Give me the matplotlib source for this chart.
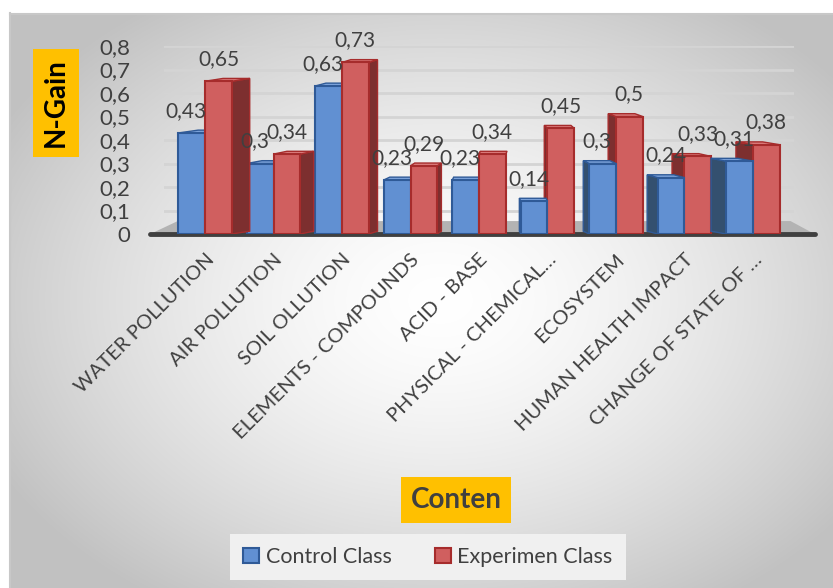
import numpy as np
import matplotlib.pyplot as plt
import matplotlib.transforms as mtrans
from matplotlib.patches import Polygon, Patch

plt.rcParams['font.family'] = ['Lato', 'DejaVu Sans']

topics = ['WATER POLLUTION', 'AIR POLLUTION', 'SOIL OLLUTION', 'ELEMENTS - COMPOUNDS',
          'ACID - BASE', 'PHYSICAL - CHEMICAL…', 'ECOSYSTEM', 'HUMAN HEALTH IMPACT',
          'CHANGE OF STATE OF …']
control = [0.43, 0.30, 0.63, 0.23, 0.23, 0.14, 0.30, 0.24, 0.31]
experimen = [0.65, 0.34, 0.73, 0.29, 0.34, 0.45, 0.50, 0.33, 0.38]
yticks = [0, 0.1, 0.2, 0.3, 0.4, 0.5, 0.6, 0.7, 0.8]

def comma(v):
    return ('%g' % v).replace('.', ',')

fig = plt.figure(figsize=(8.33, 5.88), dpi=100)

# background gradient of the chart area
bg = fig.add_axes([0, 0, 1, 1], zorder=-10)
yy, xx = np.mgrid[0:588, 0:833]
d = np.sqrt(((xx - 440) / 500.0) ** 2 + ((yy - 300) / 360.0) ** 2)
g = 1.0 - 0.24 * np.clip(d, 0, 1) ** 1.5
img = np.dstack([g, g, g])
img[:13, :] = 1.0
img[:, :10] = 1.0
bg.imshow(img, extent=[0, 833, 588, 0], aspect='auto')
bg.plot([10, 833], [13.5, 13.5], color='#c8c8c8', lw=1.5)
bg.plot([10.5, 10.5], [13, 588], color='#c8c8c8', lw=1.5)
bg.set_xlim(0, 833)
bg.set_ylim(588, 0)
bg.axis('off')

ax = fig.add_axes([164 / 833, 1 - 234 / 588, 630 / 833, 188 / 588])
ax.set_facecolor('none')
x = np.arange(len(topics))
w = 0.39
vx = 4.3      # vanishing point for side faces
k = 0.067
dy = 0.012

# floor
ax.add_patch(Polygon([(-0.8, 0), (8.9, 0), (8.55, 0.055), (-0.4, 0.055)], closed=True,
                     facecolor='#b3b3b3', edgecolor='none', zorder=1, clip_on=False))
ax.plot([-0.8, 8.9], [0, 0], color='#404040', lw=3.5, zorder=1.5, clip_on=False,
        solid_capstyle='round')

styles = [('#6190d2', '#2f5a97', '#34506f', '#7ea5dc'),
          ('#d05f5f', '#a62c2c', '#7d2f2f', '#dc7c7c')]

for i in range(len(topics)):
    for j, (vals, off) in enumerate([(control, -w), (experimen, 0)]):
        h = vals[i]
        face, edge, side, top = styles[j]
        x0 = x[i] + off
        x1 = x0 + w
        if x1 <= vx:
            z = 3 + j
            xe = x1
        else:
            z = 4 - j
            xe = x0
        dd = k * (vx - xe)
        ax.bar(x0, h, width=w, align='edge', color=face, edgecolor=edge, lw=1.5, zorder=z + 0.2)
        ax.add_patch(Polygon([(xe, 0), (xe, h), (xe + dd, h + dy), (xe + dd, dy)],
                             closed=True, facecolor=side, edgecolor=edge, lw=1, zorder=z))
        ax.add_patch(Polygon([(x0, h), (x1, h), (x1 + dd, h + dy), (x0 + dd, h + dy)],
                             closed=True, facecolor=top, edgecolor=edge, lw=1, zorder=z + 0.1))
        ax.annotate(comma(h), (x0 + w / 2, h), xytext=(-4 if j == 0 else 0, 16),
                    textcoords='offset points', ha='center', va='center',
                    fontsize=15, color='#404040', zorder=10)

ax.set_xlim(-0.6, 8.6)
ax.set_ylim(0, 0.8)
ax.set_yticks(yticks)
ax.set_yticklabels([comma(v) for v in yticks], fontsize=16, color='#404040')
ax.set_xticks(x)
ax.set_xticklabels(topics, rotation=45, ha='right', rotation_mode='anchor',
                   fontsize=14.5, color='#404040')
shift = mtrans.ScaledTranslation(-8 / 100, 0, fig.dpi_scale_trans)
for lab in ax.get_xticklabels():
    lab.set_transform(lab.get_transform() + shift)
ax.tick_params(axis='y', length=0, pad=24)
ax.tick_params(axis='x', length=0, pad=12)
ax.yaxis.grid(True, color='#d4d4d4', lw=2, zorder=0)
ax.set_axisbelow(True)
for s in ax.spines.values():
    s.set_visible(False)

fig.text(56 / 833, 1 - 103 / 588, 'N-Gain', rotation=90, ha='center', va='center',
         fontsize=20, fontweight='bold', color='black',
         bbox=dict(boxstyle='square,pad=0.35', facecolor='#ffc000', edgecolor='none'))
fig.text(456 / 833, 1 - 500 / 588, 'Conten', ha='center', va='center',
         fontsize=20, fontweight='bold', color='#404040',
         bbox=dict(boxstyle='square,pad=0.35', facecolor='#ffc000', edgecolor='none'))

handles = [Patch(facecolor=styles[0][0], edgecolor=styles[0][1], lw=1.5),
           Patch(facecolor=styles[1][0], edgecolor=styles[1][1], lw=1.5)]
leg = fig.legend(handles, ['Control Class', 'Experimen Class'], loc='center',
                 bbox_to_anchor=(428 / 833, 1 - 557 / 588), ncol=2, fontsize=15.5,
                 frameon=True, facecolor='#f0f0f0', edgecolor='none', framealpha=1,
                 fancybox=False, handlelength=0.75, handleheight=0.75, handletextpad=0.3,
                 columnspacing=2.0, borderpad=0.6)
for t in leg.get_texts():
    t.set_color('#404040')

fig.savefig('out.png', dpi=100)
